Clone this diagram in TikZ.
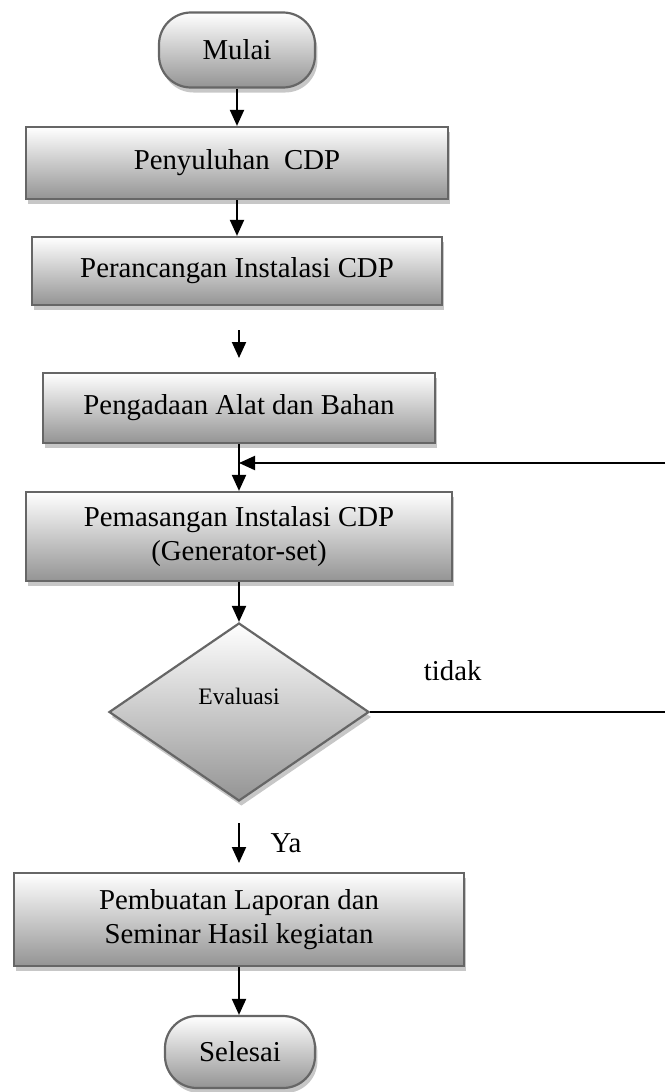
\documentclass[tikz,border=0pt]{standalone}
\usepackage{fontspec}
\setmainfont{Liberation Serif}
\usepackage{tikz}
\usetikzlibrary{arrows.meta, shadows, shapes.geometric}
\tikzset{
    proses/.style={shape=rectangle, draw=black!60, line width=1.1pt,
        top color=white, bottom color=black!42,
        drop shadow={shadow xshift=1.2pt, shadow yshift=-2.5pt, fill=black!22, opacity=1},
        inner sep=0pt, align=center, font=\fontsize{14.4}{17}\selectfont},
    terminal/.style={proses, rounded corners=16pt},
    keputusan/.style={proses, shape=diamond, font=\fontsize{11.8}{14}\selectfont},
    panah/.style={-{Triangle[width=7pt,length=8pt]}, line width=1pt},
    garis/.style={line width=1pt}}

\begin{document}
\begin{tikzpicture}[x=0.5pt, y=-0.5pt]
    \useasboundingbox (0,0) rectangle (665,1092);

    \node[terminal, minimum width=78pt, minimum height=37.5pt] (mulai) at (237,50) {Mulai};
    \node[proses, minimum width=211pt, minimum height=36pt] (suluh) at (237,163) {Penyuluhan\ \ CDP};
    \node[proses, minimum width=205pt, minimum height=34pt] (rancang) at (237,271) {Perancangan Instalasi CDP};
    \node[proses, minimum width=196pt, minimum height=35pt] (ada) at (239,408) {Pengadaan Alat dan Bahan};
    \node[proses, minimum width=213pt, minimum height=44.5pt] (pasang) at (239,536.5) {Pemasangan Instalasi CDP\\(Generator-set)};
    \node[keputusan, minimum width=130pt, minimum height=89pt] (eval) at (239,712) {Evaluasi\\[2pt]};
    \node[proses, minimum width=225pt, minimum height=46.5pt] (laporan) at (239,919.5) {Pembuatan Laporan dan\\Seminar Hasil kegiatan};
    \node[terminal, minimum width=75pt, minimum height=36pt] (selesai) at (240,1052) {Selesai};

    \coordinate (a1) at (239,330);
    \coordinate (a2) at (239,358);
    \coordinate (b1) at (239,823);
    \coordinate (b2) at (239,863);
    \coordinate (kanan1) at (665,463);
    \coordinate (kanan2) at (665,712);

    \draw[panah] (mulai) -- (suluh);
    \draw[panah] (suluh) -- (rancang);
    \draw[panah] (a1) -- (a2);
    \draw[panah] (ada) -- (pasang);
    \draw[panah] (pasang) -- (eval);
    \draw[garis] (eval.east) -- (kanan2) node[pos=0.28, above=12pt, font=\fontsize{14.4}{17}\selectfont] (tidak) {tidak};
    \draw[panah] (kanan1) -- (kanan1 -| ada.south);
    \draw[panah] (b1) -- (b2) node[midway, right=12pt, font=\fontsize{14.4}{17}\selectfont] (ya) {Ya};
    \draw[panah] (laporan) -- (laporan.south |- selesai.north);

\end{tikzpicture}
\end{document}
